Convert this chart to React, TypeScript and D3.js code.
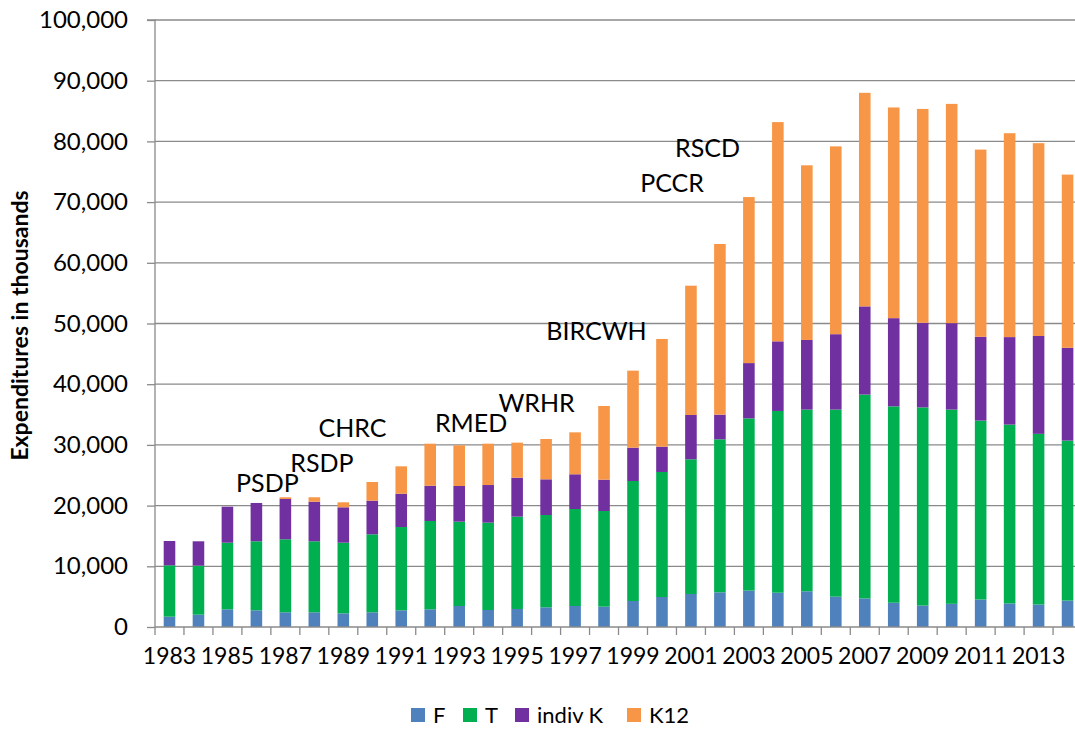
import React, { useEffect, useRef } from "react";
import * as d3 from "d3";

const years = d3.range(1983, 2015).map(String);

// segment values (thousands)
const fValues = [
  1700, 2030, 2910, 2750, 2420, 2420, 2250, 2420, 2750, 2910, 3460, 2800, 2970, 3240, 3460, 3350,
  4280, 4940, 5440, 5710, 6000, 5650, 5880, 5000, 4710, 4000, 3530, 3820, 4530, 3880, 3710, 4350,
];
const tValues = [
  8460, 8070, 10980, 11370, 12030, 11700, 11640, 12850, 13720, 14550, 13890, 14390, 15210, 15210, 15980, 15760,
  19770, 20600, 22190, 25210, 28370, 29940, 29940, 30820, 33580, 32350, 32650, 32000, 29470, 29470, 28110, 26360,
];
const indivKValues = [
  4010, 4020, 5930, 6310, 6640, 6520, 5830, 5540, 5490, 5820, 5880, 6200, 6420, 5880, 5720, 5160,
  5490, 4170, 7300, 4060, 9110, 11470, 11470, 12420, 14530, 14530, 13940, 14240, 13820, 14410, 16120, 15290,
];
const k12Values = [
  0, 0, 0, 0, 280, 730, 820, 3080, 4510, 6920, 6700, 6810, 5770, 6640, 6910, 12140,
  12690, 17740, 21300, 28120, 27350, 36120, 28770, 30940, 35180, 34710, 35230, 36120, 30830, 33590, 31770, 28530,
];

const seriesNames = ["F", "T", "indiv K", "K12"];
const seriesColors = ["#4F81BD", "#00B050", "#7030A0", "#F79646"];

const yTicks = [0, 10000, 20000, 30000, 40000, 50000, 60000, 70000, 80000, 90000, 100000];

// program labels: [label, year position, value at baseline]
const annotations: [string, number, number][] = [
  ["PSDP", 1986.38, 22240],
  ["RSDP", 1988.26, 25540],
  ["CHRC", 1989.32, 31300],
  ["RMED", 1993.41, 32120],
  ["WRHR", 1995.67, 35420],
  ["BIRCWH", 1997.74, 47280],
  ["PCCR", 2000.35, 71660],
  ["RSCD", 2001.57, 77430],
];

const FONT = "Lato, 'Open Sans', sans-serif";
const GRID = "#8a8a8a";

export default function App() {
  const ref = useRef<SVGSVGElement>(null);

  useEffect(() => {
    if (!ref.current) return;
    const width = 1075;
    const height = 729;
    const left = 155;
    const top = 20;
    const bottom = 627;

    const svg = d3.select(ref.current);
    svg.selectAll("*").remove();
    svg.append("rect").attr("width", width).attr("height", height).attr("fill", "#fff");

    const rows = years.map((yr, i) => ({
      year: yr,
      F: fValues[i],
      T: tValues[i],
      "indiv K": indivKValues[i],
      K12: k12Values[i],
    }));

    const x = d3
      .scaleBand()
      .domain(years)
      .range([left, left + 32 * 28.97])
      .paddingInner(0.6)
      .paddingOuter(0.3);

    const y = d3.scaleLinear().domain([0, 100000]).range([bottom, top]);

    const yearPos = d3
      .scaleLinear()
      .domain([1983, 2014])
      .range([x("1983")! + x.bandwidth() / 2, x("2014")! + x.bandwidth() / 2]);

    // Grid lines
    svg
      .append("g")
      .selectAll("line")
      .data(yTicks.slice(1))
      .enter()
      .append("line")
      .attr("x1", left)
      .attr("x2", width)
      .attr("y1", (d) => y(d))
      .attr("y2", (d) => y(d))
      .attr("stroke", GRID)
      .attr("stroke-width", 1.3);

    // Bars
    const stack = d3.stack<any>().keys(seriesNames)(rows);
    stack.forEach((layer, li) => {
      svg
        .append("g")
        .attr("fill", seriesColors[li])
        .selectAll("rect")
        .data(layer.filter((d) => d[1] - d[0] > 0))
        .enter()
        .append("rect")
        .attr("x", (d) => x(d.data.year)!)
        .attr("y", (d) => y(d[1]))
        .attr("width", x.bandwidth())
        .attr("height", (d) => y(d[0]) - y(d[1]));
    });

    // Y axis
    const yAxis = svg
      .append("g")
      .attr("transform", `translate(${left},0)`)
      .call(
        d3
          .axisLeft(y)
          .tickValues(yTicks)
          .tickSize(8)
          .tickPadding(19)
          .tickFormat((d) => d3.format(",")(Number(d))),
      );
    yAxis.select(".domain").attr("stroke", GRID).attr("stroke-width", 1.3).attr("d", `M-8,${top}H0V${bottom}`);
    yAxis.selectAll(".tick line").attr("stroke", GRID).attr("stroke-width", 1.3);
    yAxis
      .selectAll(".tick text")
      .attr("fill", "#000")
      .attr("font-family", FONT)
      .attr("font-size", "24px");

    // X axis
    const xAxis = svg
      .append("g")
      .attr("transform", `translate(0,${bottom})`)
      .call(
        d3
          .axisBottom(x)
          .tickSize(0)
          .tickPadding(21)
          .tickFormat((d, i) => (i % 2 === 0 ? String(d) : "")),
      );
    xAxis.select(".domain").remove();
    xAxis
      .selectAll(".tick text")
      .attr("fill", "#000")
      .attr("font-family", FONT)
      .attr("font-size", "23px");
    svg
      .append("line")
      .attr("x1", left)
      .attr("x2", width)
      .attr("y1", bottom)
      .attr("y2", bottom)
      .attr("stroke", GRID)
      .attr("stroke-width", 1.3);
    svg
      .append("g")
      .selectAll("line")
      .data(years)
      .enter()
      .append("line")
      .attr("x1", (d) => x(d)! - x.step() * x.paddingInner() / 2)
      .attr("x2", (d) => x(d)! - x.step() * x.paddingInner() / 2)
      .attr("y1", bottom)
      .attr("y2", bottom + 8)
      .attr("stroke", GRID)
      .attr("stroke-width", 1.3);

    // Y title
    svg
      .append("text")
      .attr("transform", `translate(28,${(top + bottom) / 2 + 2}) rotate(-90)`)
      .attr("text-anchor", "middle")
      .attr("font-family", FONT)
      .attr("font-weight", "bold")
      .attr("font-size", "23px")
      .text("Expenditures in thousands");

    // Annotations
    svg
      .append("g")
      .selectAll("text")
      .data(annotations)
      .enter()
      .append("text")
      .attr("x", (d) => yearPos(d[1]))
      .attr("y", (d) => y(d[2]))
      .attr("text-anchor", "middle")
      .attr("font-family", FONT)
      .attr("font-size", "25px")
      .attr("fill", "#000")
      .text((d) => d[0]);

    // Legend
    const legendX = [411, 463, 515, 627];
    const legend = svg
      .append("g")
      .selectAll("g")
      .data(seriesNames)
      .enter()
      .append("g")
      .attr("transform", (_, i) => `translate(${legendX[i]},708)`);
    legend
      .append("rect")
      .attr("width", 14)
      .attr("height", 14)
      .attr("fill", (_, i) => seriesColors[i]);
    legend
      .append("text")
      .attr("x", 22)
      .attr("y", 15)
      .attr("font-family", FONT)
      .attr("font-size", "22px")
      .text((d) => d);
  }, []);

  return (
    <div style={{ position: "absolute", left: 0, top: 0 }}>
      <svg ref={ref} width={1075} height={729} style={{ display: "block" }} />
    </div>
  );
}
